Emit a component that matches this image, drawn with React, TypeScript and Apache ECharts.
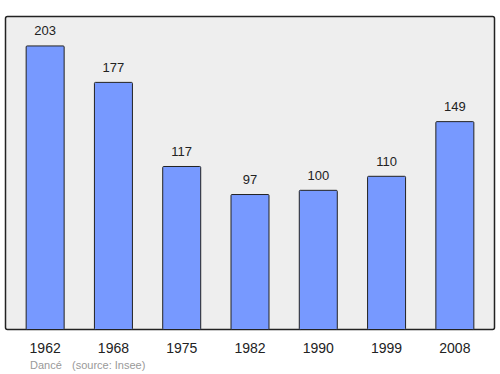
import React, { useEffect, useRef } from "react";
import * as echarts from "echarts";

const years = ["1962", "1968", "1975", "1982", "1990", "1999", "2008"];
const population = [203, 177, 117, 97, 100, 110, 149];
const footerName = "Dancé";
const footerSource = "(source: Insee)";

const FONT = "'Liberation Sans', Arial, sans-serif";

export default function App() {
  const ref = useRef<HTMLDivElement>(null);
  useEffect(() => {
    if (!ref.current) return;
    const chart = echarts.init(ref.current, null, { renderer: "svg" });
    chart.setOption({
      animation: false,
      grid: { left: 11, right: 11, top: 16, bottom: 44, containLabel: false },
      graphic: [
        {
          type: "rect",
          shape: { x: 5.5, y: 16.5, width: 489, height: 313, r: 2 },
          style: { fill: "#eeeeee", stroke: "#222", lineWidth: 1.5 },
          z: -10,
        },
        {
          type: "text",
          x: 30,
          y: 359,
          style: { text: footerName, fill: "#999", font: `11px ${FONT}` },
        },
        {
          type: "text",
          x: 72,
          y: 359,
          style: { text: footerSource, fill: "#999", font: `11px ${FONT}` },
        },
      ],
      xAxis: {
        type: "category",
        data: years,
        axisLine: { show: false },
        axisTick: { show: false },
        axisLabel: { color: "#222", fontSize: 14, margin: 11, fontFamily: FONT },
      },
      yAxis: {
        type: "value",
        min: 0,
        max: 224,
        show: false,
        splitLine: { show: false },
      },
      series: [
        {
          type: "bar",
          data: population,
          barWidth: 39,
          itemStyle: { color: "#7799ff", borderColor: "#222", borderWidth: 1, borderRadius: 1 },
          label: {
            show: true,
            position: "top",
            distance: 8,
            color: "#222",
            fontSize: 13,
            fontFamily: FONT,
          },
        },
      ],
    });
    return () => chart.dispose();
  }, []);
  return <div ref={ref} style={{ width: 500, height: 374, position: "absolute", left: 0, top: 0 }} />;
}
